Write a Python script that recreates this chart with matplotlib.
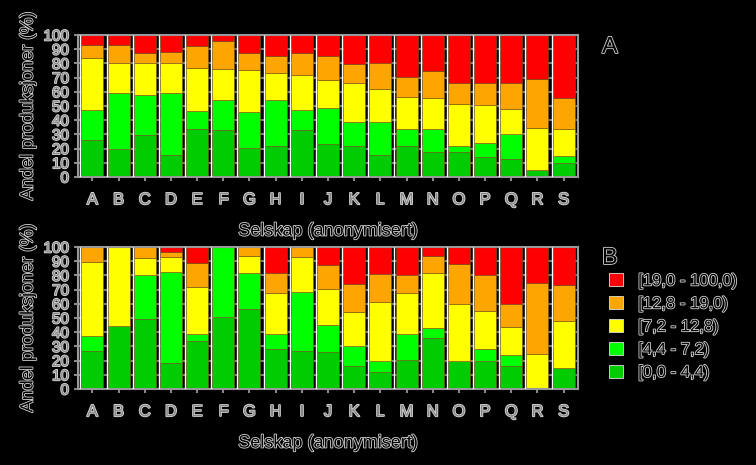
import matplotlib
matplotlib.use("Agg")
import matplotlib.pyplot as plt
import matplotlib.patheffects as pe
from matplotlib.patches import Patch
import numpy as np

plt.rcParams['font.family'] = ['Liberation Sans', 'DejaVu Sans']

companies = list("ABCDEFGHIJKLMNOPQRS")
class_labels = ["[0,0 - 4,4)", "[4,4 - 7,2)", "[7,2 - 12,8)", "[12,8 - 19,0)", "[19,0 - 100,0)"]
class_colors = ["#00cc00", "#00ff00", "#ffff00", "#ffa500", "#ff0000"]

# panel A: share (%) in each class, per company
a_0_44 = [26, 20, 29.5, 15.5, 33.5, 33, 20.5, 22, 33, 23, 21.5, 15.5, 21.5, 17.5, 17.5, 14, 13, 5, 10]
a_44_72 = [21.5, 39, 28, 43.5, 13, 21, 25, 32.5, 14, 25.5, 17, 23, 12, 16, 4.5, 10, 17.5, 0, 4.5]
a_72_128 = [36, 21.5, 23, 21, 30, 22, 30, 19, 25, 19.5, 28, 23.5, 23, 22, 29.5, 26.5, 17.5, 29.5, 19]
a_128_190 = [9.5, 12.5, 7, 8, 16, 20, 11.5, 12, 15, 17, 13, 18.5, 14, 19, 14.5, 16, 18, 34.5, 22]
a_190_100 = [7, 7, 12.5, 12, 7.5, 4, 13, 14.5, 13, 15, 20.5, 19.5, 29.5, 25.5, 34, 33.5, 34, 31, 44.5]

# panel B
b_0_44 = [27, 44.5, 49, 18.5, 34, 50.5, 56.5, 28, 27, 26, 16.5, 12, 20.5, 36, 20, 19.5, 16.5, 0, 15]
b_44_72 = [10, 0, 31, 64, 5, 49.5, 25, 11, 41, 19, 13.5, 7.5, 18.5, 7, 0, 8.5, 7.5, 0, 0]
b_72_128 = [52.5, 55.5, 12.5, 10.5, 33, 0, 12.5, 28.5, 25, 25.5, 24, 42, 28.5, 39, 40, 27, 20, 25, 33]
b_128_190 = [10.5, 0, 7.5, 3.5, 16.5, 0, 6, 14, 7, 16.5, 20, 19.5, 13, 12, 28, 25.5, 16, 50, 25]
b_190_100 = [0, 0, 0, 3.5, 11.5, 0, 0, 18.5, 0, 13, 26, 19, 19.5, 6, 12, 19.5, 40, 25, 27]

panel_a = [a_0_44, a_44_72, a_72_128, a_128_190, a_190_100]
panel_b = [b_0_44, b_44_72, b_72_128, b_128_190, b_190_100]

outline = [pe.withStroke(linewidth=1.2, foreground='#d8d8d8')]
txt = dict(color='black', path_effects=outline)

fig = plt.figure(figsize=(7.56, 4.65), dpi=100)
fig.patch.set_facecolor('black')

W, H = 756, 465
ax_a = fig.add_axes([78 / W, 1 - 177 / H, 500 / W, 142 / H])
ax_b = fig.add_axes([78 / W, 1 - 389 / H, 500 / W, 142 / H])

x = np.arange(len(companies))
width = 0.84

for ax, panel in [(ax_a, panel_a), (ax_b, panel_b)]:
    ax.set_facecolor('black')
    bottom = np.zeros(len(companies))
    for vals, col in zip(panel, class_colors):
        vals = np.array(vals, dtype=float)
        ax.bar(x, vals, width=width, bottom=bottom, color=col,
               edgecolor='#7a5a20', linewidth=0.4, zorder=2)
        bottom += vals
    # thin white line at the left side of each bar
    ax.vlines(x - width / 2 - 0.04, 0, 100, color='white', linewidth=1, zorder=3)
    ax.set_xlim(-0.55, len(companies) - 0.45)
    ax.set_ylim(0, 100)
    ax.set_yticks(np.arange(0, 101, 10))
    ax.set_xticks(x)
    ax.set_xticklabels(companies, fontsize=12, **txt)
    for lab in ax.get_yticklabels():
        lab.set_fontsize(11)
        lab.set_color('black')
        lab.set_path_effects(outline)
    ax.yaxis.grid(True, color='#777777', linewidth=1.5, zorder=0)
    ax.set_axisbelow(True)
    ax.tick_params(axis='both', colors='#888888', length=3, width=1.5)
    ax.tick_params(axis='x', pad=8)
    for s in ax.spines.values():
        s.set_color('#999999')
        s.set_linewidth(1.5)
    ax.set_ylabel('Andel produksjoner (%)', fontsize=13, labelpad=5, **txt)
    ax.set_xlabel('Selskap (anonymisert)', fontsize=13, labelpad=11, **txt)

fig.text(602 / W, 1 - 47 / H, 'A', fontsize=17, va='center', ha='left', **txt)
fig.text(602 / W, 1 - 258 / H, 'B', fontsize=17, va='center', ha='left', **txt)

handles = [Patch(facecolor=c, edgecolor='#dddddd', linewidth=0.6) for c in class_colors][::-1]
leg = fig.legend(handles, class_labels[::-1], loc='upper left',
                 bbox_to_anchor=(594 / W, 1 - 258 / H), frameon=False,
                 fontsize=12, handlelength=0.85, handleheight=0.85,
                 labelspacing=0.45, handletextpad=0.9)
for t in leg.get_texts():
    t.set_color('black')
    t.set_path_effects(outline)

fig.savefig('out.png', dpi=100, facecolor='black')
